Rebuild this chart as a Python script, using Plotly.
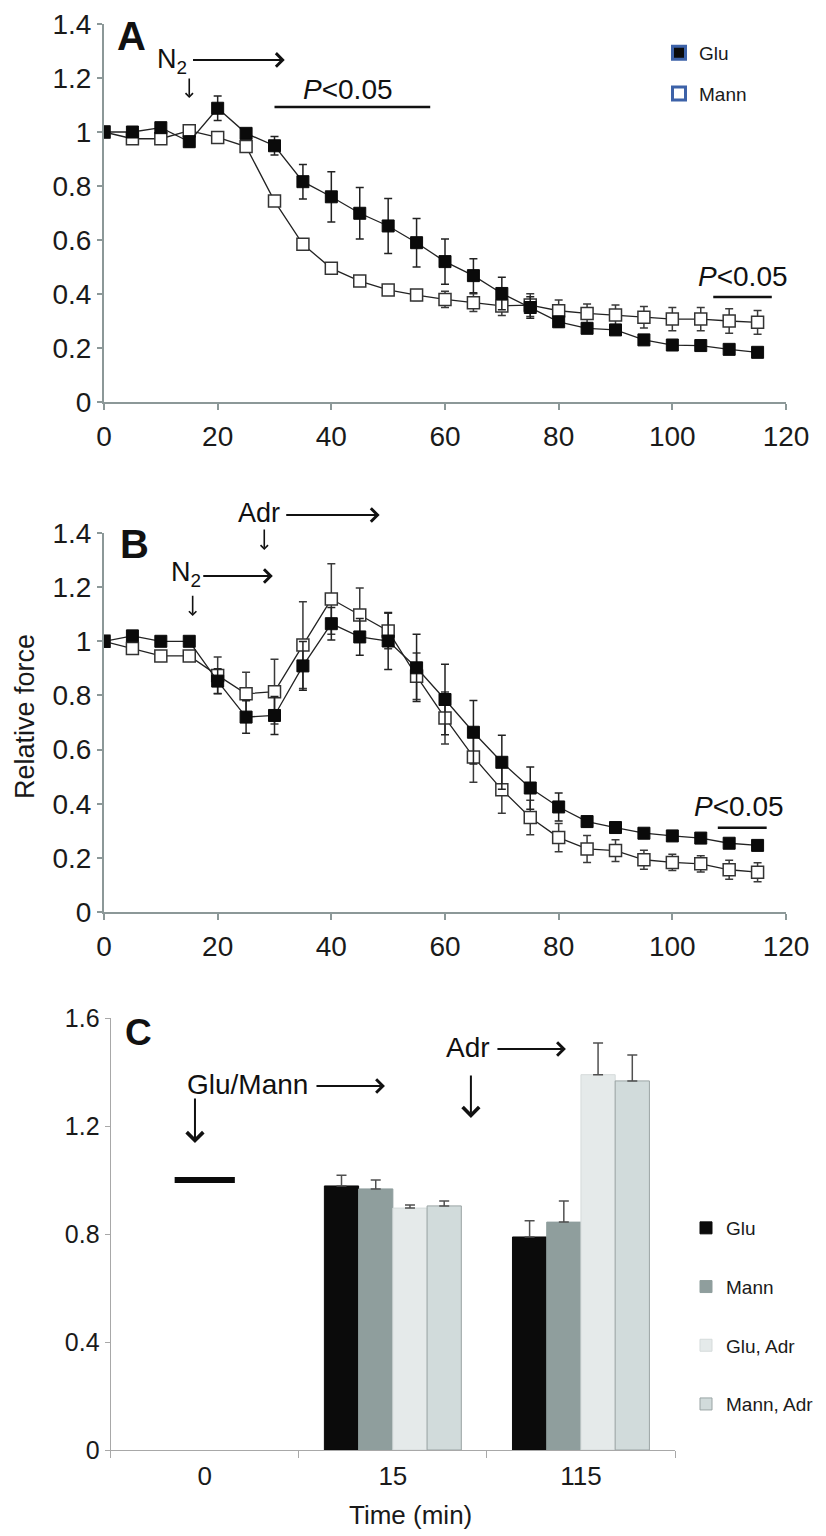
import plotly.graph_objects as go

# the page adds an 8 px body margin, so the figure is drawn 8 px smaller
OFF = 8
W, H = 826 - OFF, 1536 - OFF
FONT = "Liberation Sans, Arial, sans-serif"

# ---- panels A and B: relative force over time (min) ----
time_ab = [0, 5, 10, 15, 20, 25, 30, 35, 40, 45, 50, 55,
           60, 65, 70, 75, 80, 85, 90, 95, 100, 105, 110, 115]

a_glu = [1.0, 1.0, 1.016, 0.964, 1.088, 0.995, 0.949, 0.816, 0.760, 0.699, 0.652, 0.590,
         0.520, 0.468, 0.402, 0.350, 0.297, 0.273, 0.267, 0.230, 0.211, 0.209, 0.195, 0.184]
a_glu_err = [0.01, 0.01, 0.015, 0.02, 0.045, 0.015, 0.034, 0.064, 0.093, 0.095, 0.102, 0.09,
             0.084, 0.063, 0.06, 0.04, 0.02, 0.015, 0.015, 0.01, 0.01, 0.01, 0.01, 0.01]
a_mann = [1.0, 0.975, 0.975, 1.005, 0.980, 0.946, 0.744, 0.584, 0.495, 0.448, 0.415, 0.396,
          0.380, 0.368, 0.356, 0.359, 0.338, 0.328, 0.322, 0.314, 0.307, 0.307, 0.300, 0.295]
a_mann_err = [0.01, 0.01, 0.01, 0.01, 0.01, 0.015, 0.01, 0.01, 0.01, 0.01, 0.015, 0.02,
              0.03, 0.033, 0.036, 0.042, 0.04, 0.035, 0.037, 0.04, 0.043, 0.043, 0.045, 0.044]

b_glu = [1.0, 1.02, 1.0, 1.0, 0.853, 0.720, 0.726, 0.909, 1.065, 1.016, 1.001, 0.902,
         0.785, 0.664, 0.553, 0.458, 0.388, 0.334, 0.312, 0.291, 0.281, 0.273, 0.254, 0.246]
b_glu_err = [0.01, 0.01, 0.01, 0.01, 0.046, 0.06, 0.07, 0.09, 0.06, 0.068, 0.105, 0.124,
             0.13, 0.117, 0.10, 0.078, 0.052, 0.02, 0.015, 0.015, 0.015, 0.015, 0.015, 0.015]
b_mann = [1.0, 0.973, 0.946, 0.946, 0.874, 0.806, 0.814, 0.986, 1.156, 1.097, 1.038, 0.871,
          0.717, 0.573, 0.452, 0.349, 0.275, 0.233, 0.227, 0.193, 0.183, 0.178, 0.156, 0.147]
b_mann_err = [0.01, 0.01, 0.01, 0.01, 0.068, 0.08, 0.12, 0.16, 0.13, 0.10, 0.066, 0.086,
              0.096, 0.094, 0.087, 0.064, 0.052, 0.05, 0.04, 0.035, 0.03, 0.03, 0.035, 0.035]

# ---- panel C: bars at 0, 15 and 115 min ----
c_times = ["0", "15", "115"]
c_bar_times = ["15", "115"]
c_baseline = [1.0]
c_glu = [0.978, 0.789]
c_glu_err = [0.04, 0.06]
c_mann = [0.967, 0.844]
c_mann_err = [0.033, 0.078]
c_glu_adr = [0.896, 1.390]
c_glu_adr_err = [0.011, 0.117]
c_mann_adr = [0.904, 1.367]
c_mann_adr_err = [0.018, 0.096]


def px(p):
    # page column -> paper fraction
    return (p - OFF) / W


def py(p):
    # page row (from the top) -> paper fraction
    return 1 - (p - OFF) / H


fig = go.Figure()

line_col = "#222222"
for xa, ya, glu, glu_e, mann, mann_e in [("x", "y", a_glu, a_glu_err, a_mann, a_mann_err),
                                         ("x2", "y2", b_glu, b_glu_err, b_mann, b_mann_err)]:
    fig.add_trace(go.Scatter(
        x=time_ab, y=mann, mode="lines+markers", xaxis=xa, yaxis=ya, showlegend=False,
        line=dict(color=line_col, width=1.3),
        marker=dict(symbol="square", size=12, color="white", line=dict(color="#333333", width=1.5)),
        error_y=dict(type="data", array=mann_e, color="#3a3a3a", thickness=1.5, width=4)))
    fig.add_trace(go.Scatter(
        x=time_ab, y=glu, mode="lines+markers", xaxis=xa, yaxis=ya, showlegend=False,
        line=dict(color=line_col, width=1.3),
        marker=dict(symbol="square", size=12, color="#0a0a0a", line=dict(color="#0a0a0a", width=1)),
        error_y=dict(type="data", array=glu_e, color="#222222", thickness=1.5, width=4)))

# legend entries for panel A
for name, fill in [("Glu", "#0a0a0a"), ("Mann", "white")]:
    fig.add_trace(go.Scatter(
        x=[None], y=[None], mode="markers", name=name, legend="legend", legendgroup=name,
        xaxis="x", yaxis="y",
        marker=dict(symbol="square", size=13, color=fill, line=dict(color="#3d62a8", width=3))))

# panel C
fig.add_trace(go.Scatter(
    x=["0"], y=c_baseline, mode="markers", xaxis="x3", yaxis="y3", showlegend=False,
    cliponaxis=False,
    marker=dict(symbol="line-ew", size=43, line=dict(color="#0a0a0a", width=6))))

bar_specs = [
    ("Glu", c_glu, c_glu_err, "#0b0b0b", "#0b0b0b"),
    ("Mann", c_mann, c_mann_err, "#8f9e9d", "#8f9e9d"),
    ("Glu, Adr", c_glu_adr, c_glu_adr_err, "#e5eaea", "#d5dbdb"),
    ("Mann, Adr", c_mann_adr, c_mann_adr_err, "#d1dbdb", "#9aa4a4"),
]
for name, vals, errs, col, edge in bar_specs:
    fig.add_trace(go.Bar(
        x=c_bar_times, y=vals, name=name, xaxis="x3", yaxis="y3",
        legend="legend2", legendgroup=name,
        marker=dict(color=col, line=dict(color=edge, width=1)),
        error_y=dict(type="data", array=errs, arrayminus=[0, 0], symmetric=False,
                     color="#505050", thickness=1.5, width=5)))

axis_col = "#8c9898"
tick_font = dict(family=FONT, size=28, color="#1a1a1a")


def time_axis(anchor):
    return dict(domain=[px(104), px(786)], range=[0, 120], tickvals=[0, 20, 40, 60, 80, 100, 120],
                showline=True, linecolor=axis_col, linewidth=2, ticks="outside", ticklen=6,
                tickwidth=1.5, tickcolor=axis_col, tickfont=tick_font, showgrid=False,
                zeroline=False, anchor=anchor, ticklabelstandoff=2, automargin=False)


def force_axis(top, bottom, anchor):
    return dict(domain=[py(bottom), py(top)], range=[0, 1.4], dtick=0.2,
                showline=True, linecolor=axis_col, linewidth=2, ticks="outside", ticklen=5,
                tickwidth=1.5, tickcolor=axis_col, tickfont=tick_font, showgrid=False,
                zeroline=False, anchor=anchor, automargin=False)


fig.update_layout(
    width=W, height=H, margin=dict(l=0, r=0, t=0, b=0, autoexpand=False),
    paper_bgcolor="white", plot_bgcolor="white",
    font=dict(family=FONT, color="#1a1a1a"),
    barmode="group", bargap=0.272, bargroupgap=0,
    xaxis=time_axis("y"),
    yaxis=force_axis(24, 402, "x"),
    xaxis2=time_axis("y2"),
    yaxis2=force_axis(533, 912, "x2"),
    xaxis3=dict(domain=[px(110.7), px(675)], type="category", categoryorder="array",
                categoryarray=c_times, range=[-0.5, 2.5], tickson="boundaries",
                showline=True, linecolor="#a8a8a8", linewidth=1.2, ticks="outside",
                ticklen=7, tickcolor="#a8a8a8", tickfont=dict(family=FONT, size=26, color="#1a1a1a"),
                showgrid=False, zeroline=False, anchor="y3", ticklabelstandoff=3, automargin=False),
    yaxis3=dict(domain=[py(1450), py(1018)], range=[0, 1.6], dtick=0.4,
                showline=True, linecolor="#a8a8a8", linewidth=1.2, ticks="outside",
                ticklen=5, tickcolor="#a8a8a8", tickfont=dict(family=FONT, size=25, color="#1a1a1a"),
                showgrid=False, zeroline=False, anchor="x3", automargin=False),
    legend=dict(x=px(659), y=py(34), xanchor="left", yanchor="top",
                font=dict(family=FONT, size=19, color="#1a1a1a"), tracegroupgap=13,
                bgcolor="rgba(0,0,0,0)"),
    legend2=dict(x=px(686), y=py(1209), xanchor="left", yanchor="top",
                 font=dict(family=FONT, size=19, color="#1a1a1a"), tracegroupgap=31,
                 bgcolor="rgba(0,0,0,0)", itemwidth=30),
)

ann = []
shapes = []


def label(text, x, y, xr, yr, size=27, xanchor="center", bold=False):
    ann.append(dict(text=f"<b>{text}</b>" if bold else text, x=x, y=y, xref=xr, yref=yr,
                    showarrow=False, xanchor=xanchor, yanchor="middle",
                    font=dict(family=FONT, size=size, color="#111111")))


def arrow(x0, y0, x1, y1, xr, yr, width=2, size=1.3, head=4):
    ann.append(dict(text="", x=x1, y=y1, ax=x0, ay=y0, xref=xr, yref=yr, axref=xr, ayref=yr,
                    showarrow=True, arrowhead=head, arrowsize=size, arrowwidth=width,
                    arrowcolor="#111111", standoff=0, startstandoff=0))


def bar_line(x0, x1, y, xr, yr):
    shapes.append(dict(type="line", x0=x0, x1=x1, y0=y, y1=y, xref=xr, yref=yr,
                       line=dict(color="#111111", width=2.5)))


def b_dom(p):
    # page row -> fraction of panel B's plot height
    return (912 - p) / (912 - 533)


# panel A
label("A", 4.9, 1.354, "x", "y", size=40, bold=True)
label("N<sub>2</sub>", 9.0, 1.262, "x", "y", xanchor="left")
arrow(15.4, 1.267, 31.8, 1.267, "x", "y")
arrow(15.0, 1.204, 15.0, 1.126, "x", "y", width=1.6, size=0.9)
label("<i>P</i><0.05", 42.85, 1.156, "x", "y", size=28)
bar_line(30, 57.4, 1.093, "x", "y")
label("<i>P</i><0.05", 112.5, 0.463, "x", "y", size=28)
bar_line(107.2, 117.5, 0.389, "x", "y")

# panel B (text above the axis range is placed relative to the panel height)
label("B", 5.3, 1.359, "x2", "y2", size=40, bold=True)
label("Adr", 27.2, b_dom(513), "x2", "y2 domain")
arrow(31.8, b_dom(515), 48.5, b_dom(515), "x2", "y2 domain")
arrow(28.2, b_dom(528), 28.2, b_dom(550), "x2", "y2 domain", width=1.6, size=0.9)
label("N<sub>2</sub>", 11.35, 1.250, "x2", "y2", xanchor="left")
arrow(17.2, 1.241, 29.7, 1.241, "x2", "y2")
arrow(15.6, 1.174, 15.6, 1.093, "x2", "y2", width=1.6, size=0.9)
label("<i>P</i><0.05", 111.8, 0.389, "x2", "y2", size=28)
bar_line(108, 116.6, 0.311, "x2", "y2")
ann.append(dict(text="Relative force", x=px(25), y=py(717), xref="paper", yref="paper",
                xanchor="center", yanchor="middle",
                showarrow=False, textangle=-90, font=dict(family=FONT, size=27, color="#1a1a1a")))

# panel C
label("C", -0.352, 1.548, "x3", "y3", size=37, bold=True)
label("Glu/Mann", 0.227, 1.352, "x3", "y3", size=28)
arrow(0.586, 1.348, 0.958, 1.348, "x3", "y3")
arrow(-0.052, 1.307, -0.052, 1.137, "x3", "y3", width=2, size=1.6)
label("Adr", 1.40, 1.489, "x3", "y3", size=28)
arrow(1.548, 1.485, 1.920, 1.485, "x3", "y3")
arrow(1.415, 1.393, 1.415, 1.230, "x3", "y3", width=2, size=1.6)
ann.append(dict(text="Time (min)", x=px(410), y=py(1515), xref="paper", yref="paper",
                xanchor="center", yanchor="middle",
                showarrow=False, font=dict(family=FONT, size=26, color="#1a1a1a")))

fig.update_layout(annotations=ann, shapes=shapes)

fig.write_html("out.html")
